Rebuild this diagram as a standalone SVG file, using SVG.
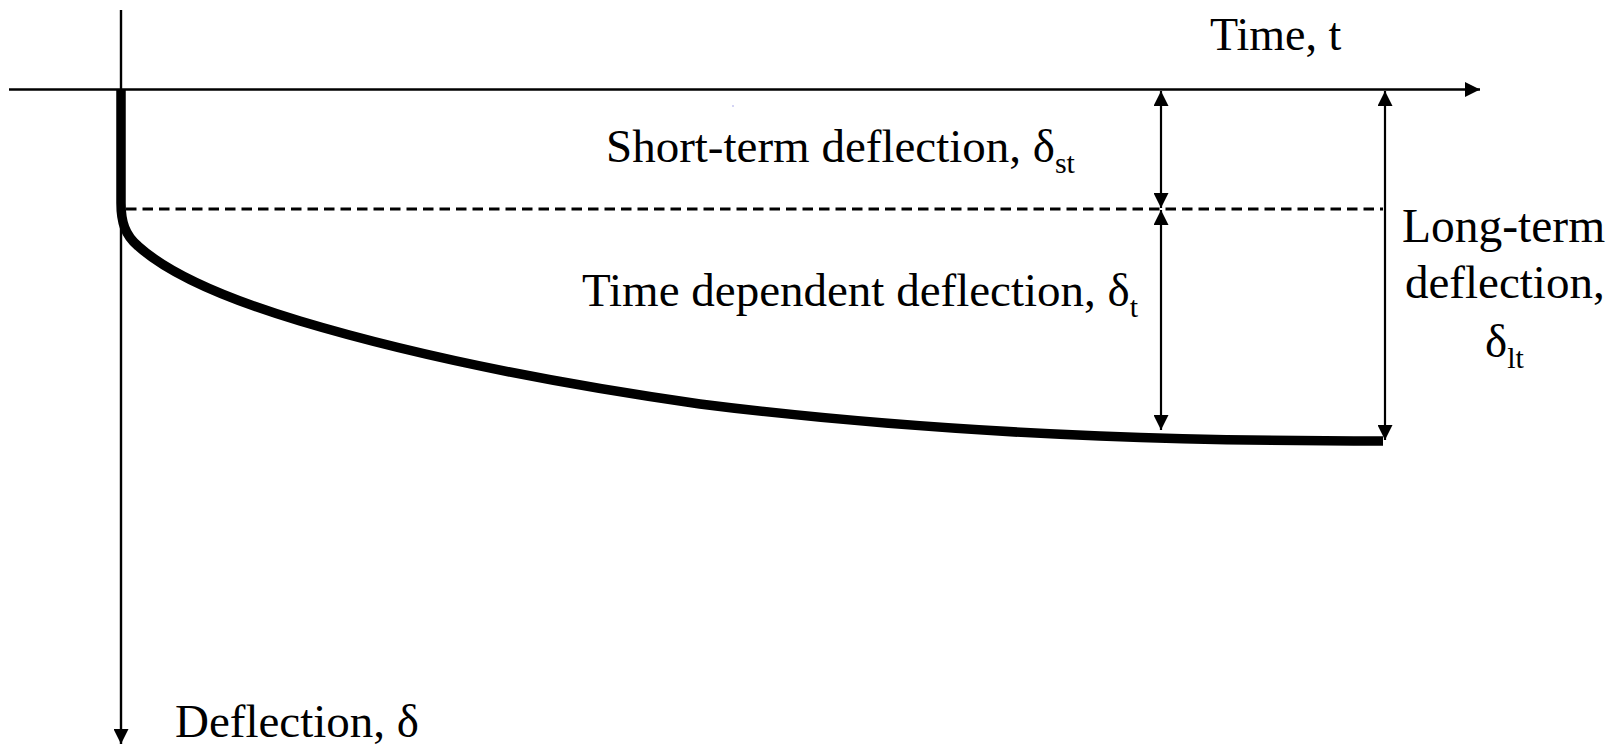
<svg xmlns="http://www.w3.org/2000/svg" width="1621" height="744" viewBox="0 0 1621 744">
<style>
text{font-family:"Liberation Serif","Times New Roman",serif;fill:#000}
.ax{stroke:#000;stroke-width:2.4;fill:none}
.dim{stroke:#000;stroke-width:2.2;fill:none}
.sub{font-size:30px}
</style>
<defs>
<marker id="ah" viewBox="0 0 10 10" refX="10" refY="5" markerWidth="15" markerHeight="15" markerUnits="userSpaceOnUse" orient="auto-start-reverse">
<path d="M0,0 L10,5 L0,10 Z" fill="#000"/>
</marker>
</defs>
<rect width="1621" height="744" fill="#fff"/>
<g id="axes">
<line class="ax" x1="9" y1="89.5" x2="1480" y2="89.5" marker-end="url(#ah)"/>
<line class="ax" x1="121" y1="10" x2="121" y2="744" marker-end="url(#ah)"/>
</g>
<g id="curve">
<path d="M121,90 L121,203 C121,222 125,235 138,246 C170,275 230,300 300,321 C420,357 560,384 700,404 C850,423 1000,432 1100,436 C1200,440 1300,441 1383,441" fill="none" stroke="#000" stroke-width="9.5"/>
</g>
<g id="dashed">
<line x1="126" y1="209" x2="1383" y2="209" stroke="#000" stroke-width="2.8" stroke-dasharray="10.5,6"/>
</g>
<g id="connectors">
<line class="dim" x1="1161" y1="91" x2="1161" y2="208" marker-start="url(#ah)" marker-end="url(#ah)"/>
<line class="dim" x1="1161" y1="210" x2="1161" y2="430" marker-start="url(#ah)" marker-end="url(#ah)"/>
<line class="dim" x1="1385" y1="91" x2="1385" y2="440" marker-start="url(#ah)" marker-end="url(#ah)"/>
</g>
<g id="labels">
<text x="1210" y="50" font-size="46">Time, t</text>
<text x="606" y="162" font-size="47">Short-term deflection, δ<tspan class="sub" dy="11">st</tspan></text>
<text x="582" y="306" font-size="47">Time dependent deflection, δ<tspan class="sub" dy="11">t</tspan></text>
<text x="1402" y="242" font-size="47.5">Long-term</text>
<text x="1405" y="298" font-size="47">deflection,</text>
<text x="1485" y="357" font-size="47">δ<tspan class="sub" dy="11">lt</tspan></text>
<text x="175" y="737" font-size="47">Deflection, δ</text>
</g>
<rect x="732" y="105" width="2" height="2" fill="#d4d4f4"/>
</svg>
